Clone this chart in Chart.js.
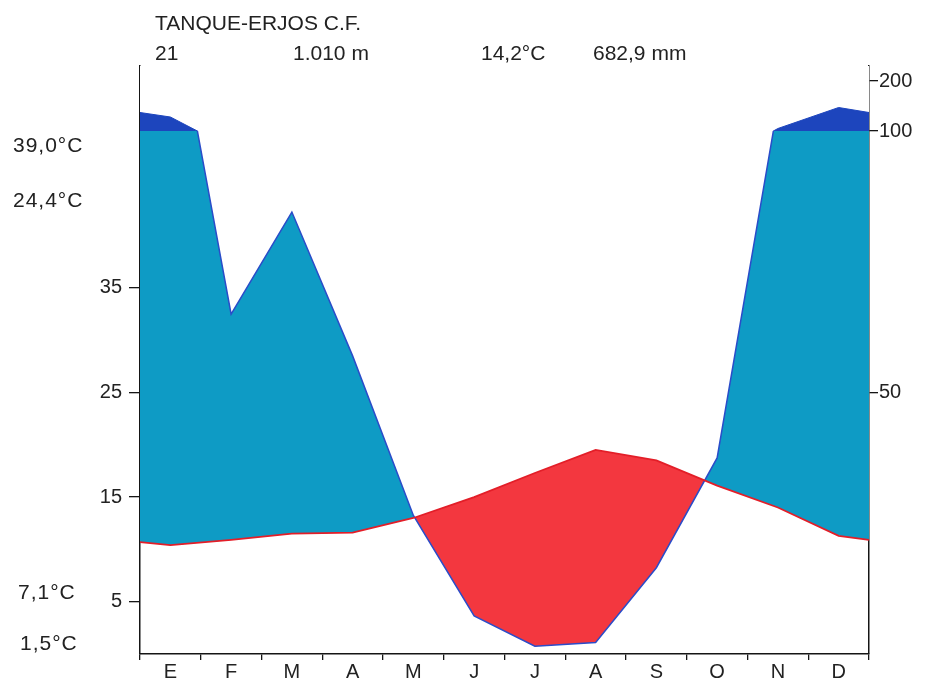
<!DOCTYPE html>
<html>
<head>
<meta charset="utf-8">
<script src="https://cdn.jsdelivr.net/npm/chart.js@4.4.1/dist/chart.umd.min.js"></script>
<style>
  html, body { margin: 0; padding: 0; background: #ffffff; }
  #wrap { position: relative; width: 925px; height: 681px; overflow: hidden; }
  #c { position: absolute; left: 0; top: 0; }
  .t { position: absolute; font-family: "Liberation Sans", Arial, sans-serif; color: #222; white-space: nowrap; line-height: 1; }
  .h { font-size: 21px; }
  .x { font-size: 21px; letter-spacing: 1px; }
</style>
</head>
<body>
<div id="wrap">
  <canvas id="c" width="925" height="681"></canvas>
  <div class="t h" id="station" style="left:155px; top:12px;"></div>
  <div class="t h" id="years" style="left:155px; top:42px;"></div>
  <div class="t h" id="altitude" style="left:293px; top:42px;"></div>
  <div class="t h" id="meanTemp" style="left:481px; top:42px;"></div>
  <div class="t h" id="annualPrec" style="left:593px; top:42px;"></div>
  <div class="t x" id="ext0" style="left:13px; top:134px;"></div>
  <div class="t x" id="ext1" style="left:13px; top:189px;"></div>
  <div class="t x" id="ext2" style="left:18px; top:581px;"></div>
  <div class="t x" id="ext3" style="left:20px; top:632px;"></div>
</div>
<script>
// ---------- data ----------
const months = ['E', 'F', 'M', 'A', 'M', 'J', 'J', 'A', 'S', 'O', 'N', 'D'];
const temperature = [10.4, 10.9, 11.5, 11.6, 13.0, 15.0, 17.3, 19.5, 18.5, 16.1, 14.0, 11.3]; // °C
const precipitation = [128, 65, 84.5, 57, 26.5, 7.3, 1.5, 2.2, 16.5, 37.5, 105, 147]; // mm
const temperatureAtEdges = [10.7, 10.9];     // value at the left / right border of the diagram
const precipitationAtEdges = [137, 137];     // value at the left / right border of the diagram
const temperatureTicks = [5, 15, 25, 35];
const precipitationTicksLow = [50, 100];
const precipitationTicksHigh = [200];
const headerTexts = ['TANQUE-ERJOS C.F.', '21', '1.010 m', '14,2°C', '682,9 mm'];
const extremeTexts = ['39,0°C', '24,4°C', '7,1°C', '1,5°C'];

// ---------- texts ----------
['station', 'years', 'altitude', 'meanTemp', 'annualPrec'].forEach((id, i) => {
  document.getElementById(id).textContent = headerTexts[i];
});
extremeTexts.forEach((s, i) => { document.getElementById('ext' + i).textContent = s; });

// ---------- build series ----------
function series(values, edges) {
  return [{ x: 0, y: edges[0] }]
    .concat(values.map((v, i) => ({ x: i + 0.5, y: v })))
    .concat([{ x: values.length, y: edges[1] }]);
}
const tempSeries = series(temperature, temperatureAtEdges);
const precSeries = series(precipitation, precipitationAtEdges);

const FONT = '"Liberation Sans", Arial, sans-serif';
const AXIS = '#151515';
const LIGHT_BLUE = '#0e9bc5';
const DARK_BLUE = '#1d45bd';
const RED_FILL = '#f3373f';

function fixedTicks(list) {
  return function (scale) { scale.ticks = list.map(v => ({ value: v })); };
}

new Chart(document.getElementById('c'), {
  type: 'line',
  data: {
    labels: months,
    datasets: [
      { // temperature curve
        label: 'Temperatura',
        data: tempSeries,
        xAxisID: 'xd', yAxisID: 'yT',
        borderColor: '#e31e28', borderWidth: 1.8,
        pointRadius: 0, fill: false, tension: 0, order: 1
      },
      { // precipitation above 100 mm (compressed scale)
        label: 'Precipitación > 100 mm',
        data: precSeries,
        xAxisID: 'xd', yAxisID: 'yPup',
        borderColor: DARK_BLUE, borderWidth: 1,
        backgroundColor: DARK_BLUE,
        pointRadius: 0, tension: 0, order: 2, clip: 0,
        fill: { value: 100, above: DARK_BLUE, below: 'rgba(0,0,0,0)' }
      },
      { // white above the precipitation curve on the compressed scale
        label: 'fondo',
        data: precSeries,
        xAxisID: 'xd', yAxisID: 'yPup',
        borderWidth: 0, backgroundColor: '#ffffff',
        pointRadius: 0, tension: 0, order: 3, clip: 0,
        fill: 'end'
      },
      { // precipitation up to 100 mm (10 °C = 20 mm)
        label: 'Precipitación',
        data: precSeries,
        xAxisID: 'xd', yAxisID: 'yPlow',
        borderColor: '#2a4cc9', borderWidth: 1.5,
        pointRadius: 0, tension: 0, order: 4, clip: 0,
        fill: { target: 0, above: LIGHT_BLUE, below: RED_FILL }
      }
    ]
  },
  options: {
    responsive: false,
    animation: false,
    events: [],
    layout: { padding: { top: 66, left: 0, right: 0, bottom: 0 } },
    plugins: {
      legend: { display: false },
      tooltip: { enabled: false },
      title: { display: false },
      filler: { propagate: false }
    },
    scales: {
      x: {
        type: 'category', position: 'bottom', offset: true,
        grid: { offset: true, drawOnChartArea: false, drawTicks: true, tickLength: 6, color: AXIS, lineWidth: 1.3 },
        border: { display: true, color: AXIS, width: 1.5 },
        ticks: { color: '#222', font: { family: FONT, size: 20 }, padding: 0, maxRotation: 0, autoSkip: false },
        afterFit: s => { s.height = 27; }
      },
      xd: { type: 'linear', display: false, min: 0, max: 12 },
      yPup: {
        type: 'linear', position: 'right', stack: 'p', stackWeight: 65,
        min: 100, max: 230,
        afterBuildTicks: fixedTicks(precipitationTicksHigh),
        grid: { drawOnChartArea: false, drawTicks: true, tickLength: 9, color: AXIS, lineWidth: 1.3 },
        border: { display: true, color: AXIS, width: 1.5 },
        ticks: { color: '#222', font: { family: FONT, size: 20 }, padding: 1, callback: v => String(v) },
        afterFit: s => { s.width = 56; }
      },
      yPlow: {
        type: 'linear', position: 'right', stack: 'p', stackWeight: 523,
        min: 0, max: 100,
        afterBuildTicks: fixedTicks(precipitationTicksLow),
        grid: { drawOnChartArea: false, drawTicks: true, tickLength: 9, color: AXIS, lineWidth: 1.3 },
        border: { display: true, color: AXIS, width: 1.5 },
        ticks: { color: '#222', font: { family: FONT, size: 20 }, padding: 1, callback: v => String(v) },
        afterFit: s => { s.width = 56; }
      },
      yT: {
        type: 'linear', position: 'left',
        min: 0, max: 56.2,
        afterBuildTicks: fixedTicks(temperatureTicks),
        grid: { drawOnChartArea: false, drawTicks: true, tickLength: 11, color: AXIS, lineWidth: 1.3 },
        border: { display: true, color: AXIS, width: 1.5 },
        ticks: { color: '#222', font: { family: FONT, size: 20 }, padding: 7, callback: v => String(v) },
        afterFit: s => { s.width = 140; }
      }
    }
  }
});
</script>
</body>
</html>
